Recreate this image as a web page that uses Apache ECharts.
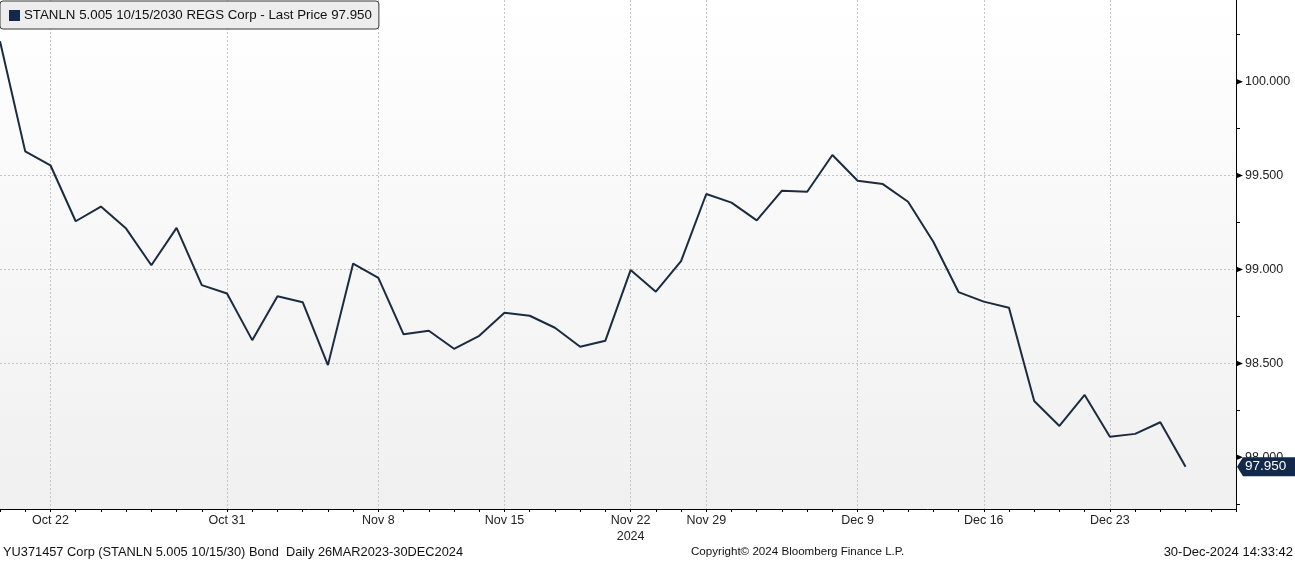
<!DOCTYPE html>
<html>
<head>
<meta charset="utf-8">
<script src="https://cdn.jsdelivr.net/npm/echarts@6/dist/echarts.min.js"></script>
<style>
html,body{margin:0;padding:0;background:#fff;}
#chart{width:1295px;height:561px;}
</style>
</head>
<body>
<div id="chart"></div>
<script>
const seriesName = 'STANLN 5.005 10/15/2030 REGS Corp - Last Price 97.950';
const categories = ['Oct 18','Oct 21','Oct 22','Oct 23','Oct 24','Oct 25','Oct 28','Oct 29','Oct 30','Oct 31',
  'Nov 1','Nov 4','Nov 5','Nov 6','Nov 7','Nov 8','Nov 11','Nov 12','Nov 13','Nov 14','Nov 15',
  'Nov 18','Nov 19','Nov 20','Nov 21','Nov 22','Nov 25','Nov 27','Nov 29',
  'Dec 2','Dec 3','Dec 4','Dec 5','Dec 6','Dec 9','Dec 10','Dec 11','Dec 12','Dec 13',
  'Dec 16','Dec 17','Dec 18','Dec 19','Dec 20','Dec 23','Dec 24','Dec 27','Dec 30','Dec 31','Jan 2'];
const prices = [100.215, 99.629, 99.555, 99.257, 99.335, 99.218, 99.023, 99.222, 98.917, 98.872,
  98.624, 98.858, 98.826, 98.491, 99.032, 98.956, 98.655, 98.674, 98.578, 98.647, 98.770,
  98.754, 98.690, 98.589, 98.621, 98.997, 98.882, 99.045, 99.402,
  99.356, 99.262, 99.420, 99.414, 99.610, 99.473, 99.455, 99.361, 99.148, 98.880,
  98.829, 98.797, 98.300, 98.167, 98.332, 98.110, 98.125, 98.187, 97.950];
const xTickLabels = ['Oct 22','Oct 31','Nov 8','Nov 15','Nov 22','Nov 29','Dec 9','Dec 16','Dec 23'];
const yearLabelAt = 'Nov 22';
const yearLabel = '2024';
const yTickValues = [98, 98.5, 99, 99.5, 100];
const yMinorTickValues = [97.75, 98.25, 98.75, 99.25, 99.75, 100.25];
const yMin = 97.725, yMax = 100.435;
const lastPrice = 97.950;
const footerLeft = 'YU371457 Corp (STANLN 5.005 10/15/30) Bond  Daily 26MAR2023-30DEC2024';
const footerMid = 'Copyright\u00A9 2024 Bloomberg Finance L.P.';
const footerRight = '30-Dec-2024 14:33:42';

const FONT = 'Liberation Sans';
const NAVY = '#1b2b40';
const isLabeled = (idx) => xTickLabels.indexOf(categories[idx]) >= 0;

const chart = echarts.init(document.getElementById('chart'), null, {renderer: 'canvas'});
const option = {
  animation: false,
  backgroundColor: '#ffffff',
  textStyle: {fontFamily: FONT},
  legend: {
    left: 0, top: 1,
    padding: [8, 7, 7, 9],
    backgroundColor: '#ededed',
    borderColor: '#3a3a3a',
    borderWidth: 1,
    borderRadius: 3,
    itemWidth: 11, itemHeight: 11,
    itemGap: 5,
    icon: 'rect',
    textStyle: {fontFamily: FONT, fontSize: 13.3, color: '#111', padding: [0, 0, 0, -1]},
    data: [{name: seriesName, itemStyle: {color: '#13294b'}}]
  },
  grid: {
    left: 0, right: 59, top: 0, bottom: 52,
    show: true, borderWidth: 0,
    backgroundColor: new echarts.graphic.LinearGradient(0, 0, 0, 1, [
      {offset: 0, color: '#ffffff'}, {offset: 1, color: '#f0f0f0'}
    ])
  },
  xAxis: {
    type: 'category',
    data: categories,
    boundaryGap: false,
    axisLine: {lineStyle: {color: '#000', width: 1}},
    axisTick: {show: true, interval: 0, length: 3, lineStyle: {color: '#000'}},
    axisLabel: {
      interval: (idx) => isLabeled(idx),
      margin: 4,
      fontFamily: FONT, fontSize: 12.5, color: '#222', lineHeight: 16,
      formatter: (v) => v === yearLabelAt ? v + '\n' + yearLabel : v
    },
    splitLine: {
      show: true,
      interval: (idx) => isLabeled(idx),
      lineStyle: {color: '#c4c4c4', type: [2, 2], width: 1}
    }
  },
  yAxis: [{
    type: 'value',
    position: 'right',
    min: yMin, max: yMax,
    axisLine: {show: true, lineStyle: {color: '#000', width: 1}},
    axisTick: {show: false, customValues: yTickValues},
    axisLabel: {
      customValues: yTickValues,
      margin: 9,
      fontFamily: FONT, fontSize: 12.5, color: '#222',
      formatter: (v) => v.toFixed(3)
    },
    splitLine: {show: true, showMinLine: false, showMaxLine: false,
      lineStyle: {color: '#c4c4c4', type: [2, 2], width: 1}}
  }, {
    type: 'value',
    position: 'right',
    min: yMin, max: yMax,
    axisLine: {show: false},
    axisTick: {show: true, length: 4, customValues: yMinorTickValues, lineStyle: {color: '#000', width: 1}},
    axisLabel: {show: false},
    splitLine: {show: false}
  }],
  series: [{
    name: seriesName,
    type: 'line',
    data: prices,
    yAxisIndex: 0,
    symbol: 'none',
    lineStyle: {color: NAVY, width: 2},
    itemStyle: {color: '#13294b'}
  }]
};
chart.setOption(option);

function drawOverlay() {
  const yPix = chart.convertToPixel({yAxisIndex: 0}, lastPrice);
  const xPix = chart.convertToPixel({xAxisIndex: 0}, categories.length - 1);
  const h = 9.5;
  const markers = yTickValues.map((v) => {
    const py = chart.convertToPixel({yAxisIndex: 0}, v);
    return {
      type: 'polygon', z: 50,
      shape: {points: [[xPix, py - 3], [xPix + 7, py], [xPix, py + 3]]},
      style: {fill: '#000'}
    };
  });
  chart.setOption({
    graphic: markers.concat([
      {
        type: 'polygon', z: 100,
        shape: {points: [[xPix + 1, yPix], [xPix + 7, yPix - h], [1295, yPix - h], [1295, yPix + h], [xPix + 7, yPix + h]]},
        style: {fill: '#13294b'}
      },
      {
        type: 'text', z: 101,
        x: xPix + 9, y: yPix,
        style: {text: lastPrice.toFixed(3), fill: '#ffffff', font: '13.5px "' + FONT + '"', textVerticalAlign: 'middle', textAlign: 'left'}
      },
      {
        type: 'text', x: 3, y: 552,
        style: {text: footerLeft, fill: '#111', font: '12.8px "' + FONT + '"', textVerticalAlign: 'middle'}
      },
      {
        type: 'text', x: 691, y: 552,
        style: {text: footerMid, fill: '#111', font: '11.6px "' + FONT + '"', textVerticalAlign: 'middle'}
      },
      {
        type: 'text', x: 1293, y: 552,
        style: {text: footerRight, fill: '#111', font: '13px "' + FONT + '"', textVerticalAlign: 'middle', textAlign: 'right'}
      }
    ])
  });
}
drawOverlay();
</script>
</body>
</html>
